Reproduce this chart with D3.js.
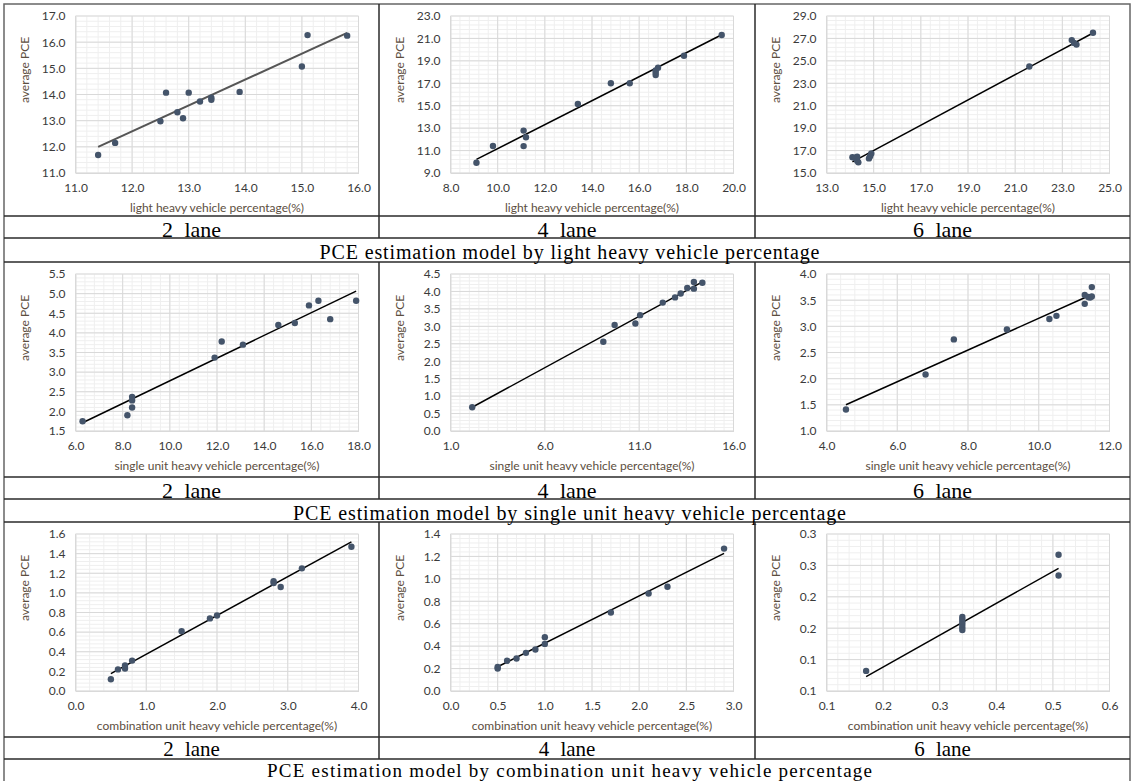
<!DOCTYPE html>
<html>
<head>
<meta charset="utf-8">
<script src="https://cdn.jsdelivr.net/npm/d3@7"></script>
<style>
    body { margin: 0; background: #fff; }
</style>
</head>
<body>
<div id="chart"></div>
<script>
////////////// DATA //////////////

const laneLabels = ["2 lane", "4 lane", "6 lane"];
const rowTitles = [
    "PCE estimation model by light heavy vehicle percentage",
    "PCE estimation model by single unit heavy vehicle percentage",
    "PCE estimation model by combination unit heavy vehicle percentage"
];
const xTitles = [
    "light heavy vehicle percentage(%)",
    "single unit heavy vehicle percentage(%)",
    "combination unit heavy vehicle percentage(%)"
];
const yTitle = "average PCE";

// light heavy vehicle
const light2X = [11.4, 11.7, 12.5, 12.6, 12.8, 12.9, 13.0, 13.2, 13.4, 13.4, 13.9, 15.0, 15.1, 15.8];
const light2Y = [11.69, 12.15, 12.98, 14.07, 13.32, 13.09, 14.07, 13.73, 13.88, 13.8, 14.1, 15.07, 16.27, 16.25];
const light4X = [9.1, 9.8, 11.1, 11.1, 11.2, 13.4, 14.8, 15.6, 16.7, 16.7, 16.7, 16.8, 17.9, 19.5];
const light4Y = [9.92, 11.41, 12.78, 11.4, 12.19, 15.15, 17.0, 17.0, 17.94, 17.73, 18.15, 18.38, 19.45, 21.3];
const light6X = [14.1, 14.2, 14.3, 14.3, 14.35, 14.8, 14.85, 14.9, 21.6, 23.4, 23.5, 23.6, 24.3];
const light6Y = [16.4, 16.35, 16.45, 16.1, 15.95, 16.3, 16.5, 16.75, 24.5, 26.85, 26.6, 26.45, 27.5];

// single unit heavy vehicle
const single2X = [6.3, 8.2, 8.4, 8.4, 8.4, 11.9, 12.2, 13.1, 14.6, 15.3, 15.9, 16.3, 16.8, 17.9];
const single2Y = [1.75, 1.9, 2.1, 2.28, 2.37, 3.37, 3.78, 3.7, 4.2, 4.25, 4.7, 4.82, 4.35, 4.82];
const single4X = [2.15, 9.1, 9.7, 10.8, 11.05, 12.25, 12.9, 13.2, 13.55, 13.9, 13.9, 14.35];
const single4Y = [0.68, 2.56, 3.04, 3.08, 3.32, 3.68, 3.83, 3.94, 4.1, 4.08, 4.27, 4.25];
const single6X = [4.55, 6.8, 7.6, 9.1, 10.3, 10.5, 11.3, 11.3, 11.4, 11.45, 11.5, 11.5];
const single6Y = [1.41, 2.08, 2.75, 2.94, 3.14, 3.2, 3.6, 3.43, 3.56, 3.55, 3.75, 3.57];

// combination unit heavy vehicle
const comb2X = [0.5, 0.6, 0.7, 0.7, 0.8, 1.5, 1.9, 2.0, 2.8, 2.8, 2.9, 3.2, 3.9];
const comb2Y = [0.12, 0.22, 0.26, 0.23, 0.31, 0.61, 0.74, 0.77, 1.12, 1.10, 1.06, 1.25, 1.47];
const comb4X = [0.5, 0.5, 0.6, 0.7, 0.8, 0.9, 1.0, 1.0, 1.7, 2.1, 2.3, 2.9];
const comb4Y = [0.20, 0.215, 0.27, 0.29, 0.34, 0.37, 0.42, 0.48, 0.70, 0.87, 0.93, 1.27];
const comb6X = [0.17, 0.34, 0.34, 0.34, 0.34, 0.34, 0.34, 0.51, 0.51];
const comb6Y = [0.082, 0.168, 0.164, 0.160, 0.156, 0.151, 0.147, 0.267, 0.234];

// linear trend lines (slope, intercept) as drawn in the picture
const fitSlope = [0.99, 1.068, 1.127, 0.289, 0.2945, 0.303, 0.395, 0.421, 0.507];
const fitIntercept = [0.71, 0.50, 0.1, -0.11, 0.047, 0.124, -0.02, 0.006, -0.0132];

// axes
const xDomains = [[11, 16], [8, 20], [13, 25], [6, 18], [1, 16], [4, 12], [0, 4], [0, 3], [0.1, 0.6]];
const yDomains = [[11, 17], [9, 23], [15, 29], [1.5, 5.5], [0, 4.5], [1, 4], [0, 1.6], [0, 1.4], [0.05, 0.3]];
const xSteps = [1, 2, 2, 2, 5, 2, 1, 0.5, 0.1];
const ySteps = [1, 2, 2, 0.5, 0.5, 0.5, 0.2, 0.2, 0.05];
const xMinor = [5, 5, 5, 5, 10, 5, 5, 5, 5];
const yMinor = [5, 5, 5, 5, 5, 5, 5, 5, 5];

const panelX = [light2X, light4X, light6X, single2X, single4X, single6X, comb2X, comb4X, comb6X];
const panelY = [light2Y, light4Y, light6Y, single2Y, single4Y, single6Y, comb2Y, comb4Y, comb6Y];

////////////// LAYOUT //////////////

const W = 1134, H = 781;
const colLeft = [4, 379, 755];
const colRight = 1130;
const chartTop = [4, 262, 522];
const laneTop = [216, 477, 737];
const laneBase = [236.5, 497.5, 756];
const laneSize = [22, 22, 21];
const titleTop = [238, 499, 759];
const titleBottom = [262, 522, 784];
const titleBase = [258.5, 519.5, 777.2];
const titleSize = [20, 20, 19];
const titleWidths = [500, 553, 605];

const plotOffX = 71.5, plotW = 283;
const plotOffY = 12, plotH = 157;

const tickFont = "Lato, 'Open Sans', sans-serif";
const serifFont = "'Liberation Serif', 'DejaVu Serif', serif";

const svg = d3.select("#chart").append("svg")
    .attr("width", W)
    .attr("height", H)
    .style("display", "block");

const fmt = d3.format(".1f");

function steps(lo, hi, step) {
    const n = Math.round((hi - lo) / step);
    return d3.range(n + 1).map(i => +(lo + i * step).toFixed(6));
}

function drawPanel(i) {
    const row = Math.floor(i / 3), col = i % 3;
    const px = colLeft[col] + plotOffX;
    const py = chartTop[row] + plotOffY;

    const x = d3.scaleLinear().domain(xDomains[i]).range([px, px + plotW]);
    const y = d3.scaleLinear().domain(yDomains[i]).range([py + plotH, py]);

    const g = svg.append("g").attr("class", "panel");

    const xMajor = steps(xDomains[i][0], xDomains[i][1], xSteps[i]);
    const yMajor = steps(yDomains[i][0], yDomains[i][1], ySteps[i]);
    const xMin = steps(xDomains[i][0], xDomains[i][1], xSteps[i] / xMinor[i]);
    const yMin = steps(yDomains[i][0], yDomains[i][1], ySteps[i] / yMinor[i]);

    // minor grid
    g.append("g").selectAll("line").data(xMin).enter().append("line")
        .attr("x1", d => x(d)).attr("x2", d => x(d))
        .attr("y1", py).attr("y2", py + plotH)
        .style("stroke", "#efefef").style("stroke-width", 1);
    g.append("g").selectAll("line").data(yMin).enter().append("line")
        .attr("x1", px).attr("x2", px + plotW)
        .attr("y1", d => y(d)).attr("y2", d => y(d))
        .style("stroke", "#efefef").style("stroke-width", 1);

    // major grid
    g.append("g").selectAll("line").data(xMajor).enter().append("line")
        .attr("x1", d => x(d)).attr("x2", d => x(d))
        .attr("y1", py).attr("y2", py + plotH)
        .style("stroke", "#d9d9d9").style("stroke-width", 1);
    g.append("g").selectAll("line").data(yMajor).enter().append("line")
        .attr("x1", px).attr("x2", px + plotW)
        .attr("y1", d => y(d)).attr("y2", d => y(d))
        .style("stroke", "#d9d9d9").style("stroke-width", 1);

    // axes
    const xAxis = g.append("g")
        .attr("transform", `translate(0,${py + plotH})`)
        .call(d3.axisBottom(x).tickValues(xMajor).tickSize(0).tickPadding(10)
            .tickFormat(d => fmt(d + 1e-9)));
    const yAxis = g.append("g")
        .attr("transform", `translate(${px},0)`)
        .call(d3.axisLeft(y).tickValues(yMajor).tickSize(0).tickPadding(10)
            .tickFormat(d => fmt(d + 1e-9)));

    [xAxis, yAxis].forEach(a => {
        a.select(".domain").style("stroke", "#d9d9d9");
        a.selectAll("text")
            .style("font-family", tickFont)
            .style("font-size", "12px")
            .style("fill", "#3a3a3a");
    });

    // axis titles
    g.append("text")
        .attr("x", px + plotW / 2)
        .attr("y", py + plotH + 39)
        .attr("text-anchor", "middle")
        .style("font-family", tickFont)
        .style("font-size", "12px")
        .style("fill", "#5c4e40")
        .text(xTitles[row]);

    g.append("text")
        .attr("transform", `translate(${colLeft[col] + 25},${py + 54}) rotate(-90)`)
        .attr("text-anchor", "middle")
        .style("font-family", tickFont)
        .style("font-size", "12px")
        .style("fill", "#5c4e40")
        .text(yTitle);

    // trend line
    const xs = panelX[i];
    const [x0, x1] = d3.extent(xs);
    g.append("line")
        .attr("x1", x(x0)).attr("y1", y(fitSlope[i] * x0 + fitIntercept[i]))
        .attr("x2", x(x1)).attr("y2", y(fitSlope[i] * x1 + fitIntercept[i]))
        .style("stroke", i === 0 ? "#555" : "#000")
        .style("stroke-width", i === 0 ? 2 : 1.5);

    // points
    g.append("g").selectAll("circle")
        .data(xs.map((v, k) => [v, panelY[i][k]]))
        .enter().append("circle")
        .attr("cx", d => x(d[0]))
        .attr("cy", d => y(d[1]))
        .attr("r", 3.2)
        .style("fill", "#44546a");
}

d3.range(9).forEach(drawPanel);

////////////// TABLE //////////////

const tbl = svg.append("g").attr("class", "table");
const lineStyle = sel => sel.style("stroke", "#2a2a2a").style("stroke-width", 1.5);

// outer frame
tbl.append("rect")
    .attr("x", colLeft[0]).attr("y", chartTop[0])
    .attr("width", colRight - colLeft[0]).attr("height", H)
    .style("fill", "none").style("stroke", "#666").style("stroke-width", 1.5);

d3.range(3).forEach(r => {
    [laneTop[r], titleTop[r], titleBottom[r]].forEach(yy => {
        tbl.append("line")
            .attr("x1", colLeft[0]).attr("x2", colRight)
            .attr("y1", yy).attr("y2", yy)
            .call(lineStyle);
    });
    [colLeft[1], colLeft[2]].forEach(xx => {
        tbl.append("line")
            .attr("x1", xx).attr("x2", xx)
            .attr("y1", chartTop[r]).attr("y2", titleTop[r])
            .call(lineStyle);
    });

    laneLabels.forEach((lab, c) => {
        const right = c < 2 ? colLeft[c + 1] : colRight;
        tbl.append("text")
            .attr("x", (colLeft[c] + right) / 2)
            .attr("y", laneBase[r])
            .attr("text-anchor", "middle")
            .style("font-family", serifFont)
            .style("font-size", laneSize[r] + "px")
            .style("word-spacing", "6px")
            .style("fill", "#000")
            .text(lab);
    });

    tbl.append("text")
        .attr("x", 569.5 - titleWidths[r] / 2)
        .attr("y", titleBase[r])
        .attr("textLength", titleWidths[r])
        .attr("lengthAdjust", "spacing")
        .style("font-family", serifFont)
        .style("font-size", titleSize[r] + "px")
        .style("fill", "#000")
        .text(rowTitles[r]);
});
</script>
</body>
</html>
